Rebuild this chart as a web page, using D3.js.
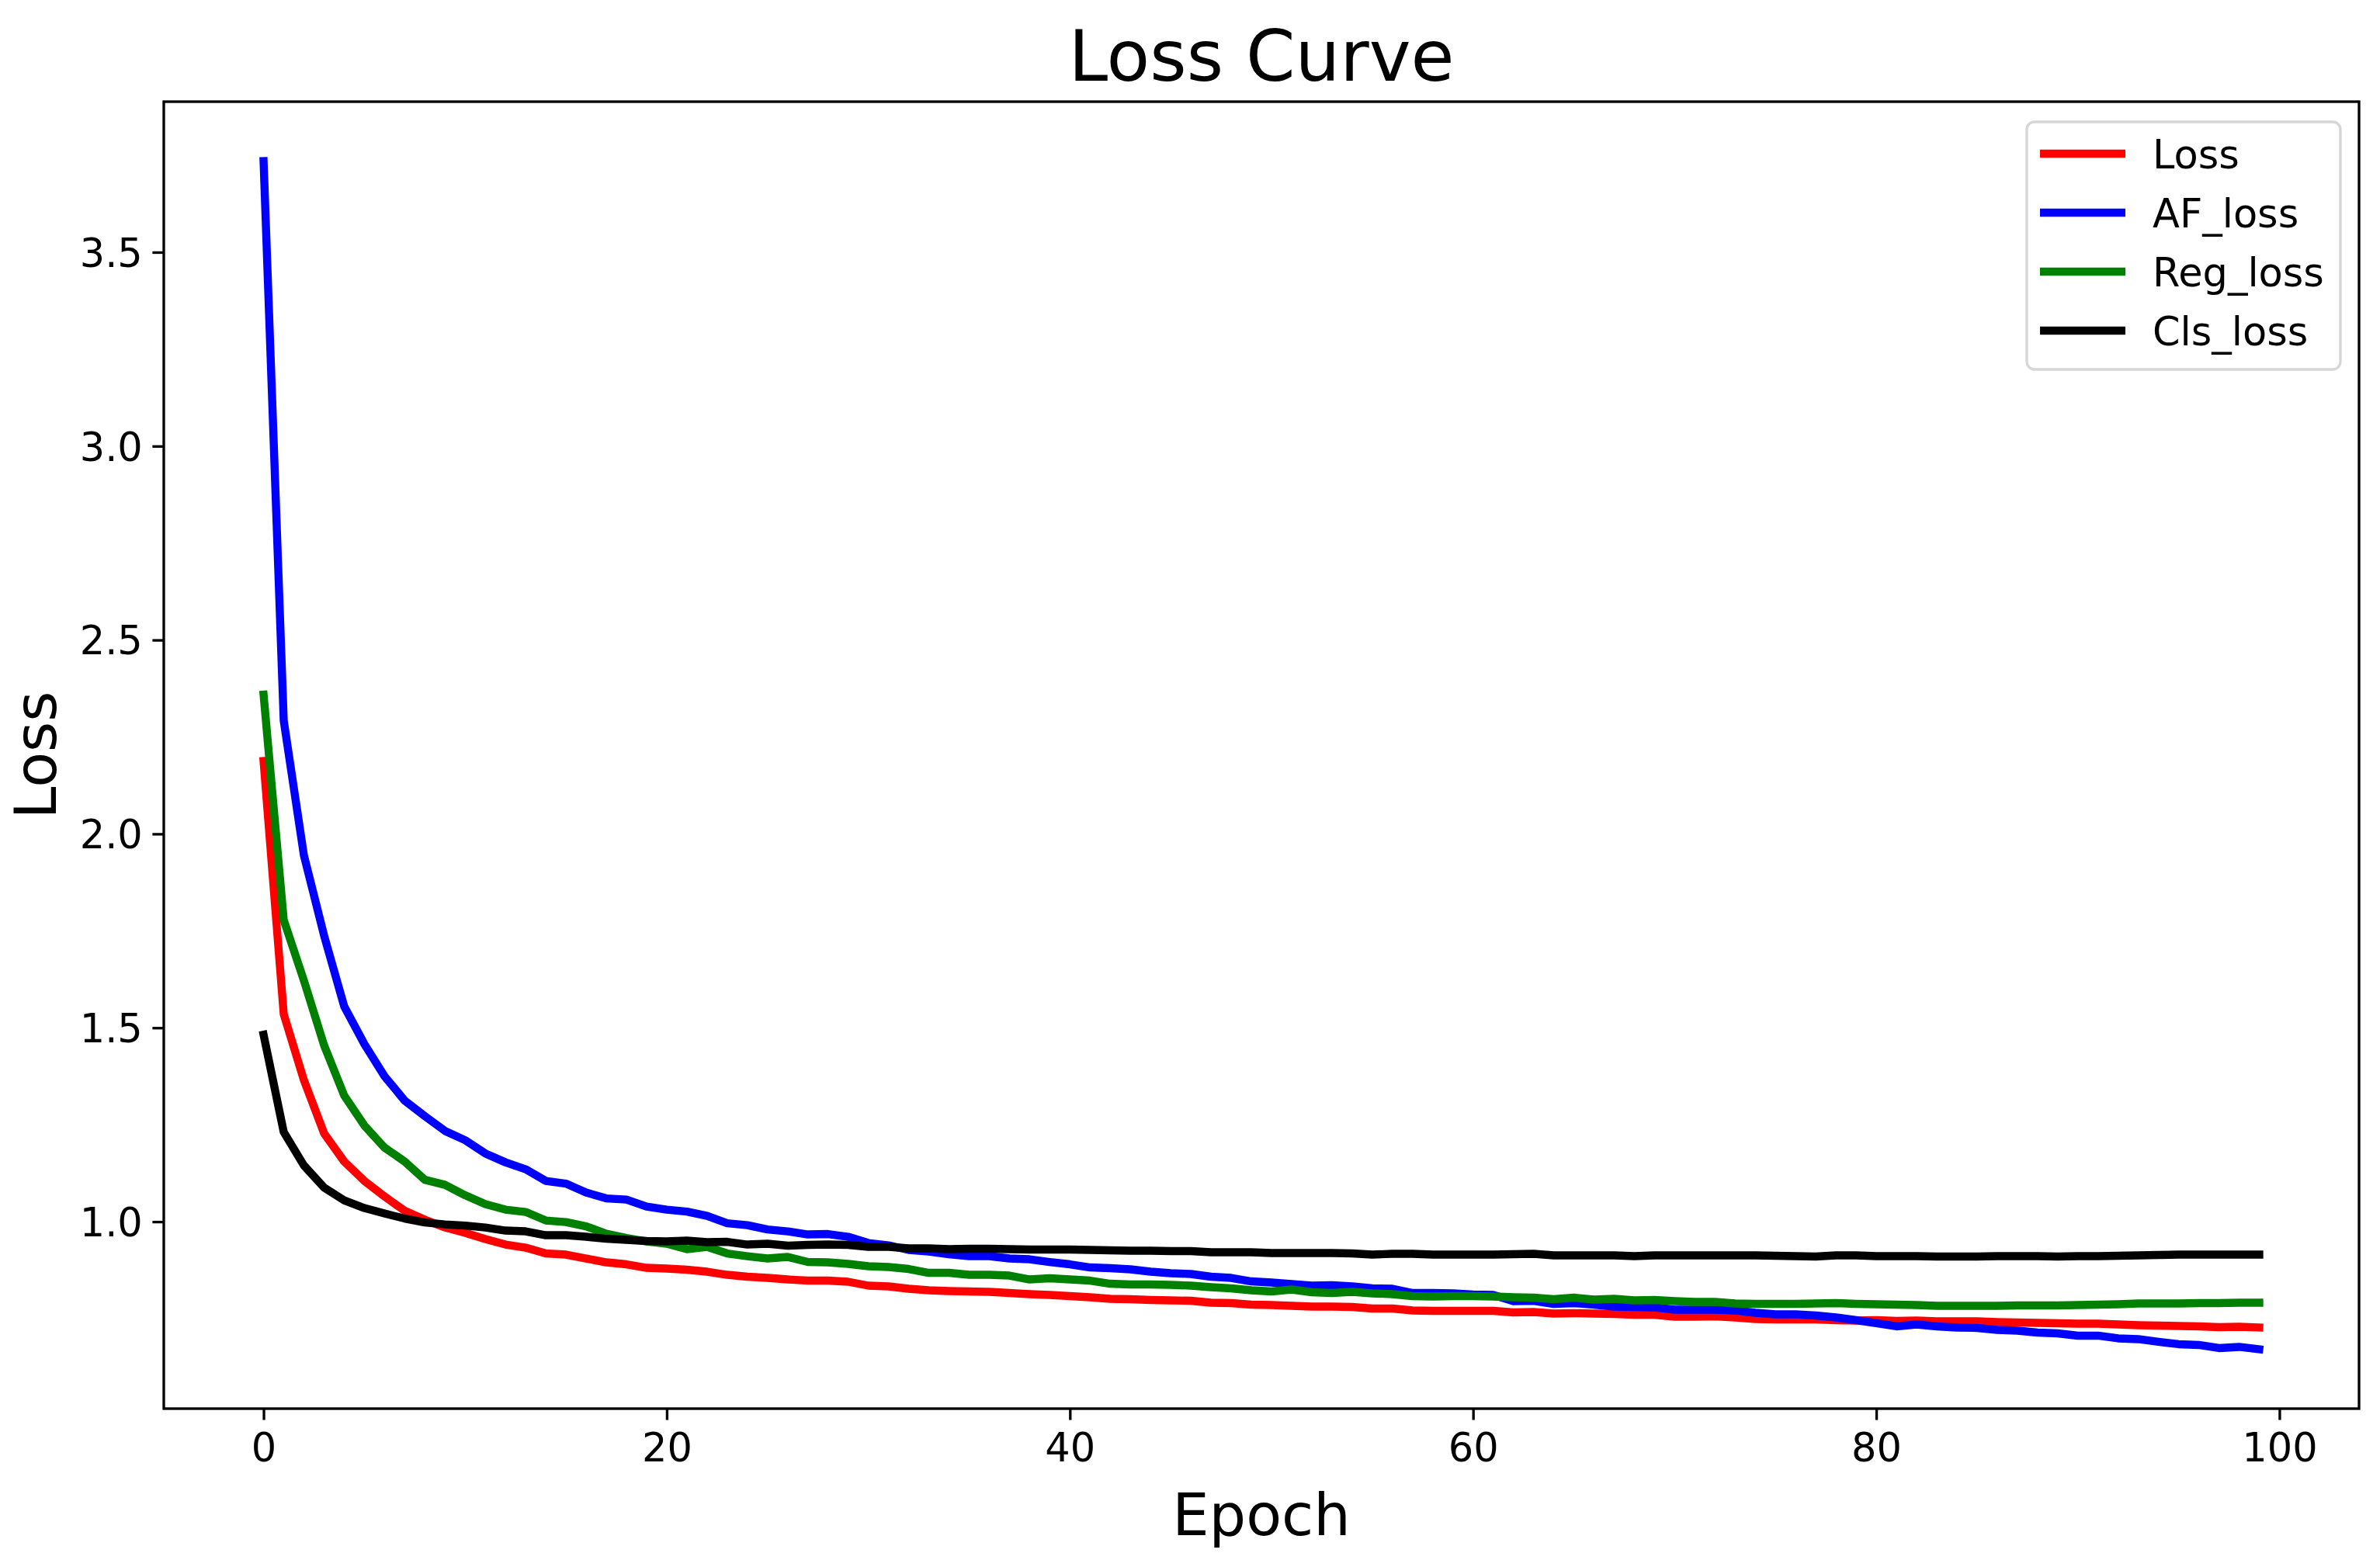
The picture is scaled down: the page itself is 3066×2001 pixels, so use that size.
<!DOCTYPE html>
<html>
<head>
<meta charset="utf-8">
<script src="https://cdn.jsdelivr.net/npm/d3@7"></script>
<style>
  html, body { margin: 0; padding: 0; background: #fff; }
  svg { display: block; }
  text { font-family: "DejaVu Sans", sans-serif; fill: #000; }
</style>
</head>
<body>
<svg id="chart" width="3066" height="2001"></svg>
<script>
const epochs = d3.range(0, 100);

const lossValues = [
  2.188,1.535,1.365,1.228,1.155,1.105,1.065,1.028,1.005,0.985,
  0.971,0.955,0.941,0.933,0.918,0.915,0.905,0.895,0.890,0.881,
  0.879,0.876,0.871,0.863,0.858,0.855,0.851,0.848,0.848,0.845,
  0.835,0.833,0.827,0.823,0.821,0.820,0.819,0.816,0.813,0.811,
  0.808,0.805,0.801,0.800,0.798,0.797,0.796,0.791,0.790,0.786,
  0.785,0.783,0.781,0.781,0.780,0.776,0.776,0.771,0.770,0.770,
  0.770,0.770,0.766,0.767,0.763,0.764,0.763,0.762,0.760,0.760,
  0.755,0.755,0.756,0.753,0.749,0.748,0.748,0.748,0.746,0.745,
  0.746,0.744,0.745,0.743,0.743,0.743,0.741,0.740,0.739,0.738,
  0.737,0.737,0.735,0.733,0.732,0.731,0.730,0.728,0.729,0.727
];

const afLossValues = [
  3.735,2.292,1.945,1.738,1.555,1.458,1.375,1.312,1.272,1.234,
  1.210,1.176,1.153,1.135,1.105,1.098,1.075,1.060,1.057,1.039,
  1.031,1.026,1.015,0.996,0.991,0.980,0.975,0.967,0.968,0.961,
  0.945,0.939,0.927,0.923,0.916,0.911,0.911,0.905,0.903,0.896,
  0.890,0.882,0.880,0.877,0.871,0.867,0.865,0.858,0.855,0.846,
  0.843,0.839,0.835,0.836,0.833,0.828,0.827,0.816,0.816,0.815,
  0.812,0.811,0.795,0.796,0.788,0.790,0.786,0.781,0.780,0.779,
  0.773,0.773,0.773,0.771,0.765,0.761,0.761,0.758,0.753,0.746,
  0.738,0.730,0.735,0.730,0.727,0.726,0.721,0.719,0.714,0.712,
  0.706,0.706,0.699,0.697,0.690,0.684,0.682,0.674,0.677,0.671
];

const regLossValues = [
  2.359,1.778,1.622,1.455,1.325,1.248,1.191,1.155,1.108,1.095,
  1.068,1.045,1.031,1.025,1.003,0.999,0.988,0.969,0.958,0.949,
  0.943,0.929,0.935,0.918,0.911,0.905,0.909,0.896,0.895,0.891,
  0.885,0.883,0.878,0.868,0.868,0.863,0.863,0.861,0.851,0.854,
  0.851,0.848,0.840,0.838,0.838,0.837,0.835,0.831,0.828,0.823,
  0.820,0.825,0.818,0.816,0.819,0.815,0.813,0.808,0.807,0.808,
  0.808,0.807,0.805,0.804,0.800,0.804,0.799,0.801,0.797,0.798,
  0.795,0.793,0.793,0.789,0.788,0.788,0.788,0.789,0.790,0.788,
  0.787,0.786,0.785,0.783,0.783,0.783,0.783,0.784,0.784,0.784,
  0.785,0.786,0.787,0.789,0.789,0.789,0.790,0.790,0.791,0.791
];

const clsLossValues = [
  1.482,1.231,1.145,1.088,1.055,1.035,1.021,1.008,0.998,0.993,
  0.990,0.985,0.977,0.975,0.965,0.965,0.961,0.956,0.953,0.950,
  0.949,0.951,0.947,0.948,0.941,0.943,0.938,0.940,0.941,0.940,
  0.935,0.935,0.931,0.931,0.929,0.930,0.930,0.929,0.928,0.928,
  0.928,0.927,0.926,0.925,0.925,0.924,0.924,0.921,0.921,0.921,
  0.919,0.919,0.919,0.919,0.918,0.915,0.917,0.917,0.915,0.915,
  0.915,0.915,0.916,0.917,0.913,0.913,0.913,0.913,0.911,0.913,
  0.913,0.913,0.913,0.913,0.913,0.912,0.911,0.910,0.913,0.913,
  0.911,0.911,0.911,0.910,0.910,0.910,0.911,0.911,0.911,0.910,
  0.911,0.911,0.912,0.913,0.914,0.915,0.915,0.915,0.915,0.915
];

const seriesNames = ["Loss", "AF_loss", "Reg_loss", "Cls_loss"];
const seriesColors = ["#ff0000", "#0000ff", "#008000", "#000000"];
const xTickValues = [0, 20, 40, 60, 80, 100];
const yTickValues = [1.0, 1.5, 2.0, 2.5, 3.0, 3.5];
const titleText = "Loss Curve";
const xLabelText = "Epoch";
const yLabelText = "Loss";

const series = [lossValues, afLossValues, regLossValues, clsLossValues];

// layout (pixels)
const plot = { left: 211, right: 3039, top: 131, bottom: 1815 };
const LW = 10.4;        // data line width
const SPINE = 3.33;     // axes line width
const TICK = 14.6;      // tick length
const PAD = 14.6;       // tick label pad

const svg = d3.select("#chart");

// matplotlib-like 5% margins
const xMin = d3.min(epochs), xMax = d3.max(epochs);
const xm = (xMax - xMin) * 0.05;
const allVals = series.flat();
const yMin = d3.min(allVals), yMax = d3.max(allVals);
const ym = (yMax - yMin) * 0.05;

const x = d3.scaleLinear().domain([xMin - xm, xMax + xm]).range([plot.left, plot.right]);
const y = d3.scaleLinear().domain([yMin - ym, yMax + ym]).range([plot.bottom, plot.top]);

// clip
svg.append("defs").append("clipPath").attr("id", "clip")
  .append("rect")
  .attr("x", plot.left).attr("y", plot.top)
  .attr("width", plot.right - plot.left).attr("height", plot.bottom - plot.top);

// lines
const line = d3.line().x((d, i) => x(epochs[i])).y(d => y(d));
const g = svg.append("g").attr("clip-path", "url(#clip)");
series.forEach((vals, k) => {
  g.append("path")
    .datum(vals)
    .attr("d", line)
    .attr("fill", "none")
    .attr("stroke", seriesColors[k])
    .attr("stroke-width", LW)
    .attr("stroke-linejoin", "round")
    .attr("stroke-linecap", "square");
});

// axes
const xAxis = d3.axisBottom(x).tickValues(xTickValues).tickSize(TICK).tickPadding(PAD)
  .tickFormat(d3.format("d"));
const yAxis = d3.axisLeft(y).tickValues(yTickValues).tickSize(TICK).tickPadding(PAD)
  .tickFormat(d3.format(".1f"));

const gx = svg.append("g").attr("transform", `translate(0,${plot.bottom})`).call(xAxis);
const gy = svg.append("g").attr("transform", `translate(${plot.left},0)`).call(yAxis);
[gx, gy].forEach(a => {
  a.select(".domain").remove();
  a.selectAll(".tick line").attr("stroke", "#000").attr("stroke-width", SPINE);
  a.selectAll(".tick text").attr("font-size", 51).attr("font-family", "DejaVu Sans").attr("fill", "#000");
});
gx.selectAll(".tick text").attr("dy", "0.76em");
gy.selectAll(".tick text").attr("dy", "0.36em").attr("x", -(TICK + PAD - 2));

// frame
svg.append("rect")
  .attr("x", plot.left).attr("y", plot.top)
  .attr("width", plot.right - plot.left).attr("height", plot.bottom - plot.top)
  .attr("fill", "none").attr("stroke", "#000").attr("stroke-width", SPINE);

// title and labels
const cx = (plot.left + plot.right) / 2;
const cy = (plot.top + plot.bottom) / 2;
svg.append("text").attr("x", cx).attr("y", 104).attr("text-anchor", "middle")
  .attr("font-size", 91).text(titleText);
svg.append("text").attr("x", cx).attr("y", 1978).attr("text-anchor", "middle")
  .attr("font-size", 75).text(xLabelText);
svg.append("text").attr("transform", `translate(72,${cy}) rotate(-90)`).attr("text-anchor", "middle")
  .attr("font-size", 75).text(yLabelText);

// legend
const lg = svg.append("g");
lg.append("rect")
  .attr("x", 2611).attr("y", 157).attr("width", 404).attr("height", 319)
  .attr("rx", 10).attr("ry", 10)
  .attr("fill", "#fff").attr("fill-opacity", 0.8)
  .attr("stroke", "#d6d6d6").attr("stroke-width", SPINE);
seriesNames.forEach((name, k) => {
  const ly = 198 + k * 76;
  lg.append("line")
    .attr("x1", 2628).attr("x2", 2738).attr("y1", ly).attr("y2", ly)
    .attr("stroke", seriesColors[k]).attr("stroke-width", LW);
  lg.append("text").attr("x", 2773).attr("y", ly + 18.5)
    .attr("font-size", 51).text(name);
});
</script>
</body>
</html>
